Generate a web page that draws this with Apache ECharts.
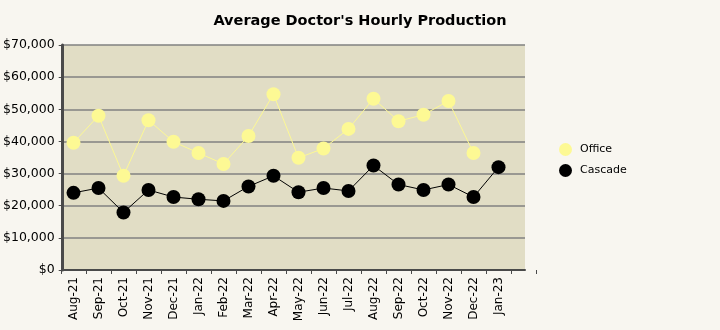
<!DOCTYPE html>
<html>
<head>
<meta charset="utf-8">
<script src="https://cdn.jsdelivr.net/npm/echarts@6/dist/echarts.min.js"></script>
<style>
  html, body { margin: 0; padding: 0; background: #f8f6f0; }
  #chart { width: 720px; height: 330px; }
</style>
</head>
<body>
<div id="chart"></div>
<script>
// Monthly categories (trailing blank slot keeps the last tick past Jan-23)
const months = ['Aug-21','Sep-21','Oct-21','Nov-21','Dec-21','Jan-22','Feb-22','Mar-22','Apr-22',
                'May-22','Jun-22','Jul-22','Aug-22','Sep-22','Oct-22','Nov-22','Dec-22','Jan-23',''];
// Average hourly production per doctor, in dollars
const office  = [39600, 48000, 29300, 46600, 39900, 36400, 33000, 41700, 54700,
                 34900, 37800, 43900, 53300, 46300, 48300, 52600, 36400, null, null];
const cascade = [24000, 25500, 17900, 24900, 22700, 22000, 21500, 26000, 29300,
                 24200, 25500, 24600, 32500, 26600, 24900, 26600, 22700, 32000, null];
const yTicks = { min: 0, max: 70000, step: 10000 };

const font = 'DejaVu Sans';
const chart = echarts.init(document.getElementById('chart'), null, { renderer: 'canvas' });

chart.setOption({
  animation: false,
  backgroundColor: '#f8f6f0',
  title: {
    text: "Average Doctor's Hourly Production",
    left: 'center',
    top: 9,
    textStyle: { fontFamily: font, fontSize: 14.5, fontWeight: 'bold', color: '#000' }
  },
  legend: {
    orient: 'vertical',
    left: 554,
    top: 138,
    itemGap: 8,
    itemWidth: 13,
    itemHeight: 13,
    icon: 'circle',
    textStyle: { fontFamily: font, fontSize: 11, color: '#000', padding: [0, 0, 0, 3] },
    data: ['Office', 'Cascade']
  },
  grid: [
    // plot panel: background, gridlines, frame
    { left: 61, right: 195, top: 45, bottom: 60, show: true, backgroundColor: '#e1ddc5', borderWidth: 0 },
    // category slots for the data
    { left: 61, right: 184, top: 45, bottom: 60 }
  ],
  xAxis: [
    {
      gridIndex: 0, type: 'value', min: 0, max: 1,
      axisLine: { show: true, lineStyle: { color: '#4a4a4a', width: 2 } },
      axisTick: { show: false }, axisLabel: { show: false }, splitLine: { show: false }
    },
    {
      gridIndex: 1, type: 'category', data: months, boundaryGap: true,
      axisLine: { show: false },
      axisTick: { show: true, length: 4, lineStyle: { color: '#4a4a4a' } },
      axisLabel: { rotate: 90, interval: 0, margin: 7, fontFamily: font, fontSize: 12, color: '#000' },
      splitLine: { show: false }
    }
  ],
  yAxis: [
    {
      gridIndex: 0, type: 'value', min: yTicks.min, max: yTicks.max, interval: yTicks.step,
      axisLine: { show: true, lineStyle: { color: '#4a4a4a', width: 3 } },
      axisTick: { show: true, length: 4, lineStyle: { color: '#4a4a4a' } },
      axisLabel: {
        margin: 8, fontFamily: font, fontSize: 12.5, color: '#000',
        formatter: v => '$' + v.toLocaleString('en-US')
      },
      splitLine: { show: true, lineStyle: { color: '#808080', width: 1.5 } }
    },
    {
      gridIndex: 1, type: 'value', min: yTicks.min, max: yTicks.max, interval: yTicks.step,
      show: false
    }
  ],
  series: [
    {
      name: 'Office', type: 'line', xAxisIndex: 1, yAxisIndex: 1, data: office,
      symbol: 'circle', symbolSize: 14,
      itemStyle: { color: '#fdf994' },
      lineStyle: { color: '#fdf994', width: 1 }
    },
    {
      name: 'Cascade', type: 'line', xAxisIndex: 1, yAxisIndex: 1, data: cascade,
      symbol: 'circle', symbolSize: 14,
      itemStyle: { color: '#000' },
      lineStyle: { color: '#000', width: 1 }
    }
  ]
});
</script>
</body>
</html>
